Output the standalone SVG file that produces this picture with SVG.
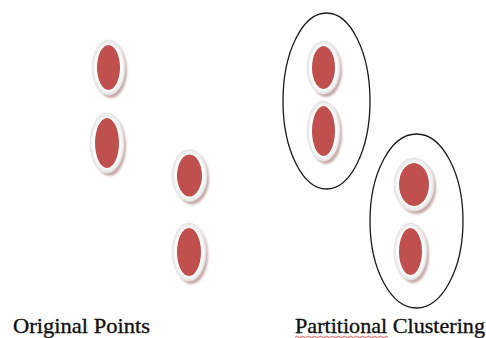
<svg xmlns="http://www.w3.org/2000/svg" width="486" height="338" viewBox="0 0 486 338">
<defs>
<filter id="blur" x="-30%" y="-30%" width="160%" height="160%"><feGaussianBlur stdDeviation="1.2"/></filter>
<radialGradient id="rim" cx="50%" cy="50%" r="50%">
<stop offset="80%" stop-color="#ffffff"/>
<stop offset="100%" stop-color="#e4e2e2"/>
</radialGradient>
</defs>
<style>
.sh{fill:#b48c8c;opacity:0.75;filter:url(#blur)}
.rim{fill:url(#rim);stroke:#e6e4e4;stroke-width:0.8}
.dot{fill:#c0504d}
.cl{fill:none;stroke:#1a1a1a;stroke-width:1.3}
.lbl{font-family:"Liberation Serif",serif;font-size:22px;fill:#111;stroke:#111;stroke-width:0.35}
</style>
<rect width="486" height="338" fill="#ffffff"/>
<g id="p1"><ellipse class="sh" cx="111" cy="70.5" rx="16" ry="27.5"/><ellipse class="rim" cx="108.5" cy="67.5" rx="16.5" ry="27.5"/><ellipse class="dot" cx="108.5" cy="67.5" rx="11.5" ry="22.5"/></g>
<g id="p2"><ellipse class="sh" cx="109.5" cy="146" rx="16.5" ry="30"/><ellipse class="rim" cx="107" cy="143" rx="17" ry="30"/><ellipse class="dot" cx="107" cy="143" rx="12" ry="25"/></g>
<g id="p3"><ellipse class="sh" cx="192" cy="178.5" rx="17" ry="26"/><ellipse class="rim" cx="189.5" cy="175.5" rx="17.5" ry="26"/><ellipse class="dot" cx="189.5" cy="175.5" rx="12.5" ry="21"/></g>
<g id="p4"><ellipse class="sh" cx="191.5" cy="255" rx="16.5" ry="29"/><ellipse class="rim" cx="189" cy="252" rx="17" ry="29"/><ellipse class="dot" cx="189" cy="252" rx="12" ry="24"/></g>
<g id="c1"><ellipse class="cl" cx="326.5" cy="101" rx="43.5" ry="88"/></g>
<g id="c2"><ellipse class="cl" cx="416.5" cy="221" rx="46.5" ry="87"/></g>
<g id="pa"><ellipse class="sh" cx="326" cy="70.5" rx="16" ry="26.5"/><ellipse class="rim" cx="323.5" cy="67.5" rx="16.5" ry="26.5"/><ellipse class="dot" cx="323.5" cy="67.5" rx="11.5" ry="21.5"/></g>
<g id="pb"><ellipse class="sh" cx="326" cy="134" rx="16" ry="30"/><ellipse class="rim" cx="323.5" cy="131" rx="16.5" ry="30"/><ellipse class="dot" cx="323.5" cy="131" rx="11.5" ry="25"/></g>
<g id="pc"><ellipse class="sh" cx="416.5" cy="187.5" rx="19.5" ry="26.5"/><ellipse class="rim" cx="414" cy="184.5" rx="20" ry="26.5"/><ellipse class="dot" cx="414" cy="184.5" rx="15" ry="21.5"/></g>
<g id="pd"><ellipse class="sh" cx="413" cy="254.5" rx="16" ry="28.5"/><ellipse class="rim" cx="410.5" cy="251.5" rx="16.5" ry="28.5"/><ellipse class="dot" cx="410.5" cy="251.5" rx="11.5" ry="23.5"/></g>
<g id="connectors"></g>
<text class="lbl" x="13" y="333" textLength="137" lengthAdjust="spacingAndGlyphs">Original  Points</text>
<path d="M295,337 q1.5,-1.5 3,0 t3,0 t3,0 t3,0 t3,0 t3,0 t3,0 t3,0 t3,0 t3,0 t3,0 t3,0 t3,0 t3,0 t3,0 t3,0 t3,0 t3,0 t3,0 t3,0 t3,0 t3,0 t3,0 t3,0 t3,0 t3,0 t3,0 t3,0 t3,0 t3,0 t3,0" fill="none" stroke="#e02020" stroke-width="0.8"/>
<text class="lbl" x="295" y="332.5" textLength="190" lengthAdjust="spacingAndGlyphs">Partitional Clustering</text>
</svg>
